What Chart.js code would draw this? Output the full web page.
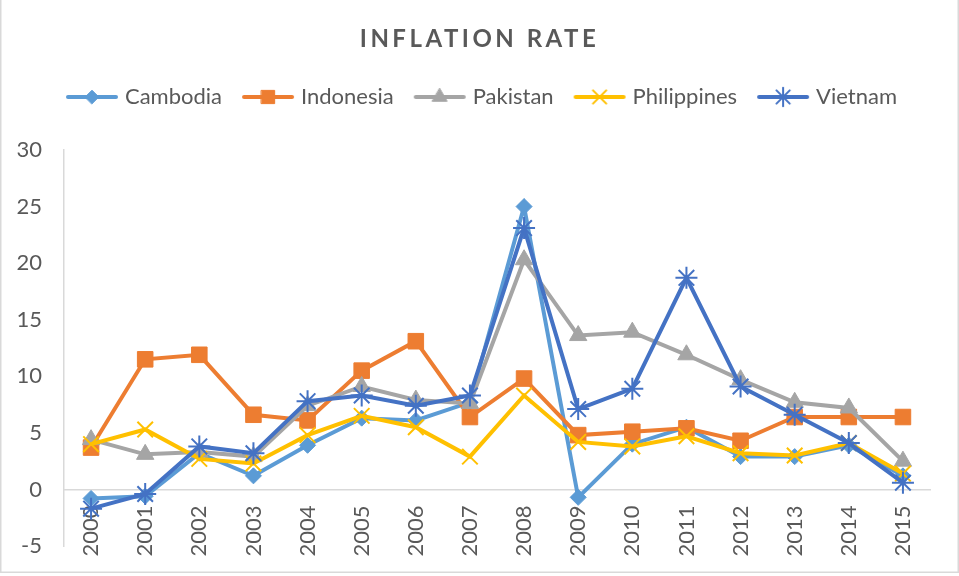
<!DOCTYPE html>
<html lang="en">
<head>
<meta charset="UTF-8">
<title>Inflation Rate</title>
<script src="https://cdn.jsdelivr.net/npm/chart.js"></script>
<style>
  html, body { margin: 0; padding: 0; background: #fff; }
</style>
</head>
<body>
<canvas id="inflationChart" width="959" height="576"></canvas>
<script>
// data
const years = ['2000', '2001', '2002', '2003', '2004', '2005', '2006', '2007',
               '2008', '2009', '2010', '2011', '2012', '2013', '2014', '2015'];
const cambodia    = [-0.8, -0.6, 3.2, 1.2, 3.9, 6.3, 6.1, 7.7, 25.0, -0.7, 4.0, 5.5, 2.9, 2.9, 3.9, 1.2];
const indonesia   = [3.7, 11.5, 11.9, 6.6, 6.1, 10.5, 13.1, 6.4, 9.8, 4.8, 5.1, 5.4, 4.3, 6.4, 6.4, 6.4];
const pakistan    = [4.4, 3.1, 3.3, 2.9, 7.4, 9.1, 7.9, 7.6, 20.3, 13.6, 13.9, 11.9, 9.7, 7.7, 7.2, 2.5];
const philippines = [4.0, 5.3, 2.7, 2.3, 4.8, 6.5, 5.5, 2.9, 8.3, 4.2, 3.8, 4.7, 3.2, 3.0, 4.1, 1.4];
const vietnam     = [-1.7, -0.4, 3.8, 3.2, 7.8, 8.3, 7.4, 8.3, 23.1, 7.1, 8.9, 18.7, 9.1, 6.6, 4.1, 0.6];

const yMin = -5, yMax = 30, yStep = 5;

const textColor = '#595959';
const axisColor = '#d9d9d9';
const fontFamily = 'Lato, "Open Sans", sans-serif';

// one entry per series: [label, values, colour, marker, radius, markerBorder]
const series = [
    ['Cambodia',    cambodia,    '#5B9BD5', 'rectRot',  8,    1],
    ['Indonesia',   indonesia,   '#ED7D31', 'rect',     11,   1],
    ['Pakistan',    pakistan,    '#A5A5A5', 'triangle', 10,   1],
    ['Philippines', philippines, '#FFC000', 'crossRot', 11,   2],
    ['Vietnam',     vietnam,     '#4472C4', 'star',     11,   2]
];

// little line + marker pictures for the legend, like Excel draws them
function legendIcon(color, style, radius, border) {
    const c = document.createElement('canvas');
    c.width = 54; c.height = 22;
    const g = c.getContext('2d');
    g.strokeStyle = color;
    g.lineWidth = 4;
    g.lineCap = 'round';
    g.beginPath();
    g.moveTo(3, 11);
    g.lineTo(51, 11);
    g.stroke();
    g.fillStyle = color;
    g.lineWidth = border;
    Chart.helpers.drawPoint(g, { pointStyle: style, radius: radius * 0.85, rotation: 0, borderWidth: border }, 27, 11);
    return c;
}
const icons = series.map(s => legendIcon(s[2], s[3], s[4], s[5]));

const datasets = series.map((s, i) => ({
    label: s[0],
    data: s[1],
    borderColor: s[2],
    backgroundColor: s[2],
    borderWidth: 4,
    tension: 0,
    pointStyle: s[3],
    pointRadius: s[4],
    pointHoverRadius: s[4],
    pointBorderWidth: s[5],
    pointBackgroundColor: s[2],
    pointBorderColor: s[2],
    order: series.length - i   // later series on top, as in Excel
}));

const chartBorder = {
    id: 'chartBorder',
    beforeDraw(chart) {
        const ctx = chart.ctx;
        ctx.save();
        ctx.fillStyle = '#fff';
        ctx.fillRect(0, 0, chart.width, chart.height);
        ctx.strokeStyle = axisColor;
        ctx.lineWidth = 1.5;
        ctx.strokeRect(0.75, -2, chart.width - 1.5, chart.height + 0.75 - 2.5);
        ctx.restore();
    }
};

// spaced-out bold title drawn by hand (Chart.js title has no letter spacing)
const spacedTitle = {
    id: 'spacedTitle',
    afterDraw(chart) {
        const ctx = chart.ctx;
        ctx.save();
        ctx.font = 'bold 24px ' + fontFamily;
        ctx.fillStyle = textColor;
        ctx.letterSpacing = '3.5px';
        ctx.textAlign = 'center';
        ctx.textBaseline = 'middle';
        ctx.fillText('INFLATION RATE', chart.width / 2, 39);
        ctx.restore();
    }
};

// extra room under the legend, and nudge it a bit right like the original
const legendMargin = {
    id: 'legendMargin',
    beforeInit(chart) {
        const fit = chart.legend.fit;
        chart.legend.fit = function () {
            fit.call(this);
            this.height += 32;
        };
    },
    afterLayout(chart) {
        chart.legend.left += 10;
        chart.legend.right += 10;
    }
};

const ctx = document.getElementById('inflationChart').getContext('2d');
const inflationChart = new Chart(ctx, {
    type: 'line',
    data: { labels: years, datasets: datasets },
    plugins: [chartBorder, spacedTitle, legendMargin],
    options: {
        responsive: false,
        animation: false,
        layout: { padding: { top: 62, left: 17, right: 29, bottom: 30 } },
        scales: {
            x: {
                position: { y: 0 },
                offset: true,
                grid: { display: false, drawTicks: false },
                border: { display: true, color: axisColor, width: 1.5 },
                ticks: {
                    autoSkip: false,
                    minRotation: 90,
                    maxRotation: 90,
                    padding: 16,
                    color: textColor,
                    font: { family: fontFamily, size: 22 }
                },
                afterFit(scale) {
                    scale.paddingLeft = 0;
                    scale.paddingRight = 0;
                }
            },
            y: {
                min: yMin,
                max: yMax,
                grid: { display: false, drawTicks: false },
                border: { display: true, color: axisColor, width: 1.5 },
                ticks: {
                    stepSize: yStep,
                    padding: 22,
                    color: textColor,
                    font: { family: fontFamily, size: 22 }
                },
                // fixed axis width / no extra label padding so the plot sits where Excel put it
                afterFit(scale) {
                    scale.width = 47;
                    scale.paddingTop = 0;
                    scale.paddingBottom = 0;
                }
            }
        },
        plugins: {
            title: { display: false },
            tooltip: { enabled: false },
            legend: {
                display: true,
                position: 'top',
                labels: {
                    usePointStyle: true,
                    pointStyleWidth: 44,
                    padding: 24,
                    color: textColor,
                    font: { family: fontFamily, size: 22 },
                    sort: (a, b) => a.datasetIndex - b.datasetIndex,
                    generateLabels(chart) {
                        const items = Chart.defaults.plugins.legend.labels.generateLabels(chart);
                        items.forEach(item => { item.pointStyle = icons[item.datasetIndex]; });
                        return items;
                    }
                }
            }
        }
    }
});
</script>
</body>
</html>
